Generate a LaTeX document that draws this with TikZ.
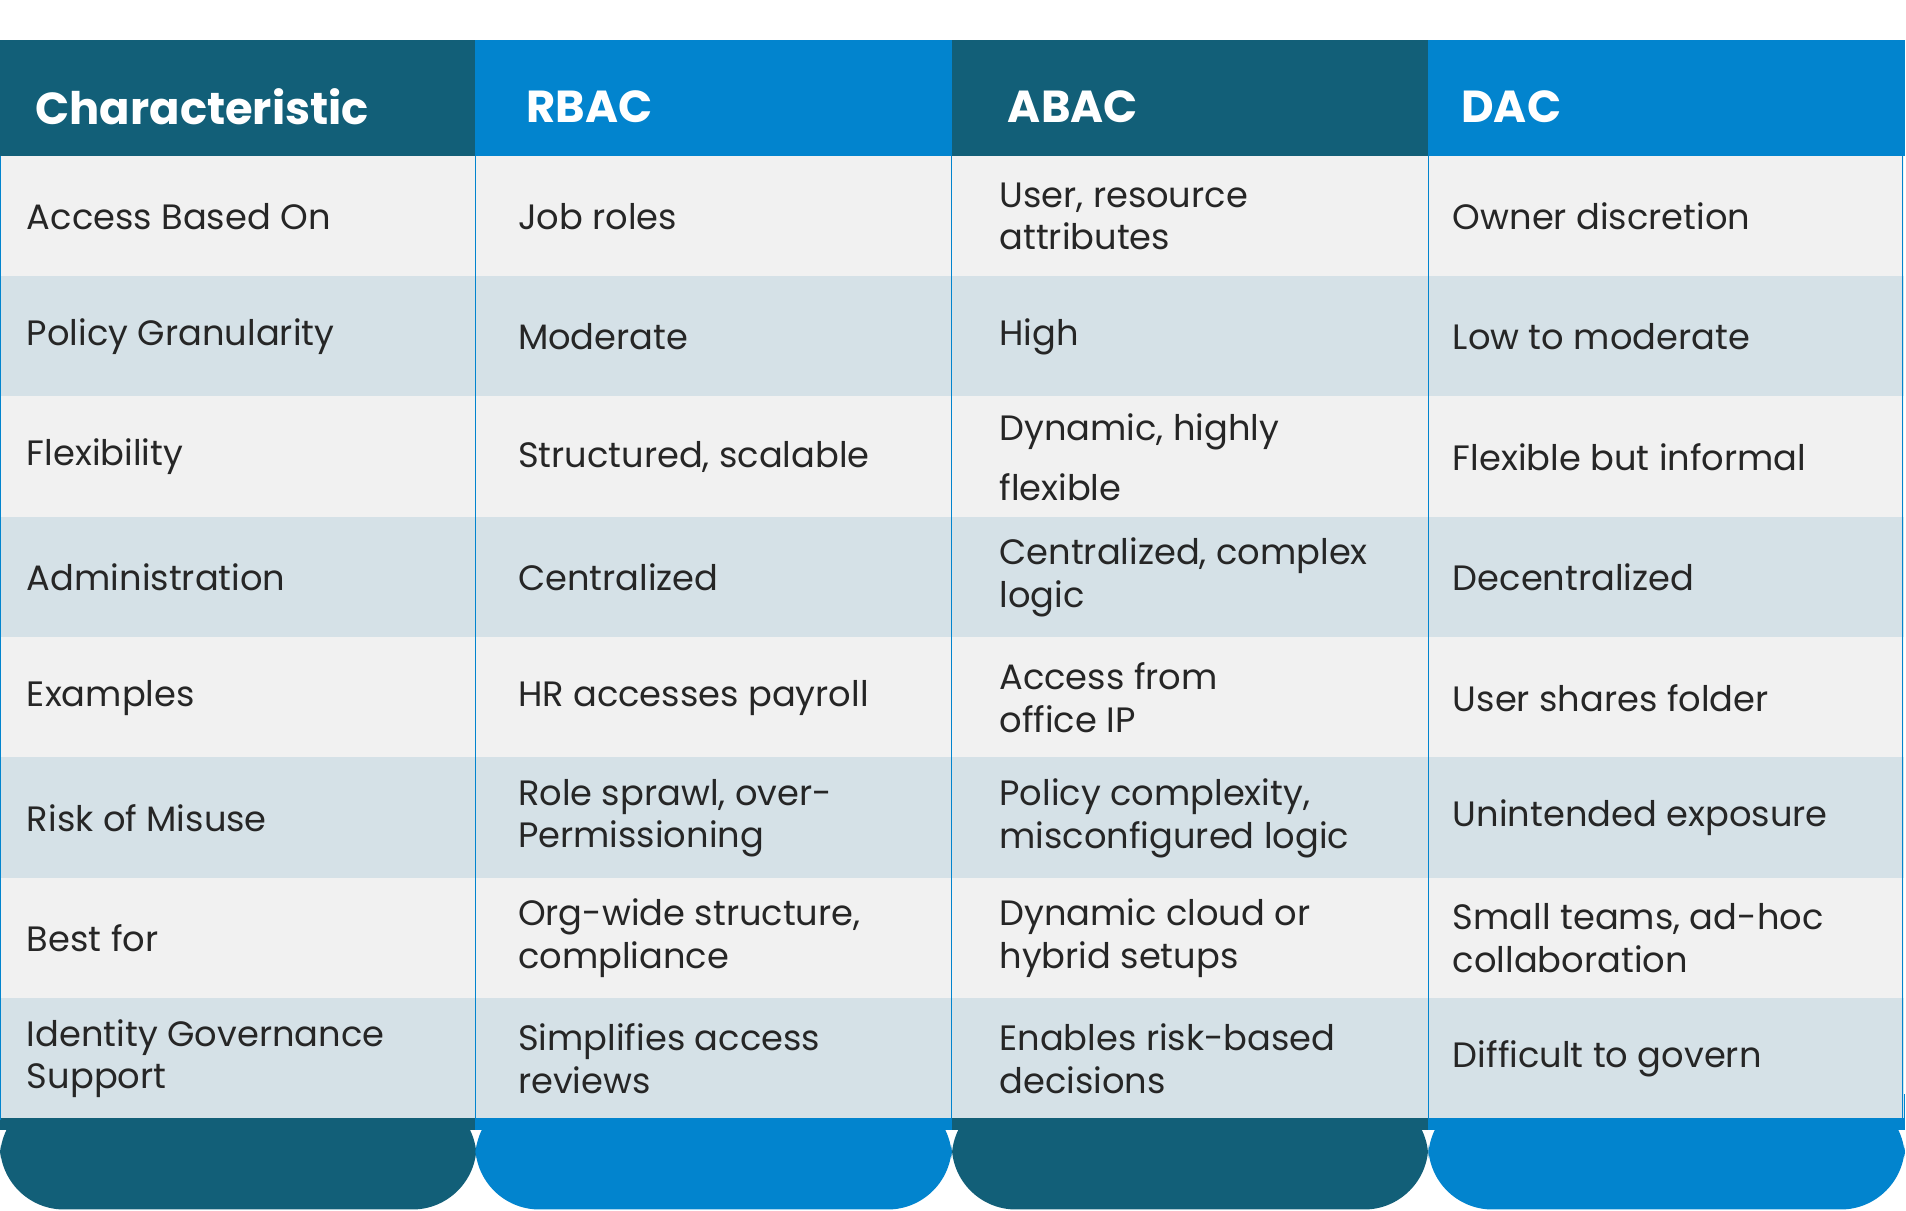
\documentclass[tikz,border=0pt]{standalone}
\usepackage{fontspec}
\setmainfont{Poppins}
\usetikzlibrary{positioning}
\definecolor{darkteal}{HTML}{125F78}
\definecolor{brightblue}{HTML}{0284CE}
\definecolor{rowgray}{HTML}{F1F1F1}
\definecolor{rowblue}{HTML}{D5E1E7}
\begin{document}
\begin{tikzpicture}[
        x=0.02cm, y=-0.02cm,
        head/.style={anchor=west, text=white, font=\fontsize{21}{25}\selectfont\bfseries},
        cell/.style={anchor=west, align=left, text=black!85, font=\fontsize{16.5}{20}\selectfont},
        divider/.style={draw=brightblue, line width=0.6pt}
    ]
    \useasboundingbox (0,0) rectangle (1568,996);
    \fill[white] (0,0) rectangle (1568,996);

    % header and footer bands
    \foreach \i/\x/\col in {0/0/darkteal, 1/391/brightblue, 2/783/darkteal, 3/1175/brightblue} {
        \fill[\col] (\x,33) rectangle (\x+392,128);
        \fill[\col, rounded corners=30] (\x,900) -- (\x,995) -- (\x+392,995) -- (\x+392,900) -- cycle;
        \fill[\col] (\x,900) rectangle (\x+392,930);
    }

    % body rows
    \foreach \r in {0,...,7} {
        \pgfmathtruncatemacro{\odd}{mod(\r,2)}
        \ifnum\odd=0 \def\rc{rowgray}\else\def\rc{rowblue}\fi
        \fill[\rc] (0,128+99*\r) rectangle (1566,227+99*\r);
    }
    \foreach \x in {391,783,1175,1565} \draw[divider] (\x,128) -- (\x,921);
    \draw[divider] (0.5,128) -- (0.5,921);

    % header texts
    \node[head] (h-char) at (23,88) {Characteristic};
    \node[head] (h-rbac) at (427,88) {RBAC};
    \node[head] (h-abac) at (823,88) {ABAC};
    \node[head] (h-dac) at (1196,88) {DAC};

    % cells
    \foreach \r/\a/\b/\c/\d in {
        0/Access Based On/Job roles/{User, resource\\attributes}/Owner discretion,
        1/Policy Granularity/Moderate/High/Low to moderate,
        2/Flexibility/{Structured, scalable}/{Dynamic, highly\\[8pt]flexible}/Flexible but informal,
        3/Administration/Centralized/{Centralized, complex\\logic}/Decentralized,
        4/Examples/HR accesses payroll/{Access from\\office IP}/User shares folder,
        5/Risk of Misuse/{Role sprawl, over-\\Permissioning}/{Policy complexity,\\misconfigured logic}/Unintended exposure,
        6/Best for/{Org-wide structure,\\compliance}/{Dynamic cloud or\\hybrid setups}/{Small teams, ad-hoc\\collaboration},
        7/{Identity Governance\\Support}/{Simplifies access\\reviews}/{Enables risk-based\\decisions}/Difficult to govern} {
        \node[cell] (c\r-a) at (16,178+99*\r) {\a};
        \node[cell] (c\r-b) at (420,178+99*\r) {\b};
        \node[cell] (c\r-c) at (816,178+99*\r) {\c};
        \node[cell] (c\r-d) at (1189,178+99*\r) {\d};
    }
\end{tikzpicture}
\end{document}
